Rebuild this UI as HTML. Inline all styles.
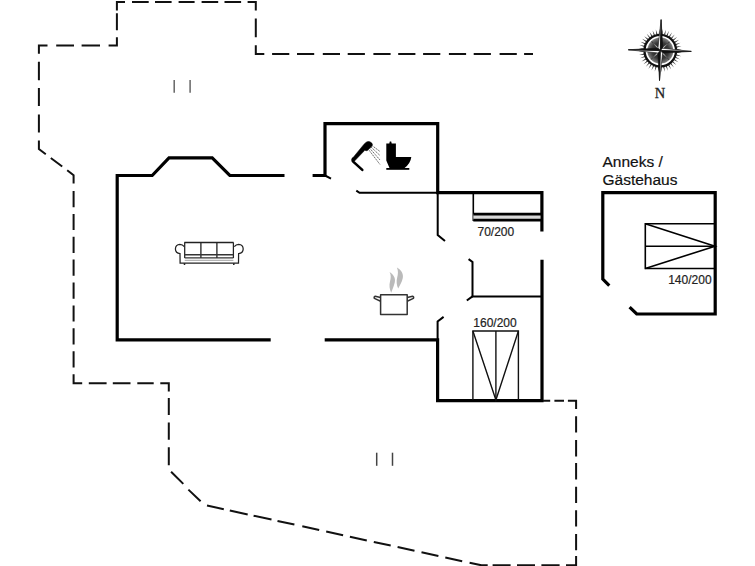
<!DOCTYPE html>
<html><head><meta charset="utf-8">
<style>
html,body{margin:0;padding:0;background:#fff;width:755px;height:566px;overflow:hidden}
svg{position:absolute;left:0;top:0}
text{font-family:"Liberation Sans",sans-serif}
</style></head>
<body>
<svg width="755" height="566" viewBox="0 0 755 566">
<!-- dashed terrace outline -->
<g fill="none" stroke="#111" stroke-width="2.0" stroke-linejoin="miter"><path d="M524.1 54.0 L533.0 54.0 M499.6 54.0 L516.8 54.0 M473.7 54.0 L490.9 54.0 M448.9 54.0 L466.1 54.0 M423.1 54.0 L440.3 54.0 M398.2 54.0 L415.4 54.0 M373.4 54.0 L390.6 54.0 M347.7 54.0 L364.9 54.0 M322.8 54.0 L340.0 54.0 M297.0 54.0 L314.2 54.0 M272.1 54.0 L289.3 54.0 M255.8 45.2 L255.8 54.0 L264.3 54.0 M255.8 18.5 L255.8 37.2 M247.6 1.9 L255.8 1.9 L255.8 10.5 M224.5 1.9 L241.1 1.9 M201.6 1.9 L218.2 1.9 M178.6 1.9 L194.6 1.9 M155.0 1.9 L171.6 1.9 M132.0 1.9 L148.7 1.9 M125.0 1.9 L116.9 1.9 L116.9 10.5 M116.9 13.2 L116.9 30.2 M116.9 37.2 L116.9 45.4 L108.6 45.4 M81.6 45.4 L100.0 45.4 M56.2 45.4 L74.0 45.4 M47.5 45.4 L38.9 45.4 L38.9 53.7 M38.9 61.8 L38.9 80.2 M38.9 88.0 L38.9 106.0 M38.9 114.4 L38.9 132.6 M38.9 140.6 L38.9 149.0 L45.8 154.2 M50.8 158.0 L62.2 166.5 M67.2 170.2 L73.6 175.2 L73.6 183.4 M73.6 191.0 L73.6 207.2 M73.6 213.9 L73.6 230.1 M73.6 236.7 L73.6 252.9 M73.6 259.6 L73.6 275.8 M73.6 282.5 L73.6 298.7 M73.6 305.4 L73.6 321.6 M73.6 328.3 L73.6 344.5 M73.6 351.2 L73.6 367.4 M73.6 374.3 L73.6 383.3 L82.2 383.3 M88.8 383.3 L106.6 383.3 M112.8 383.3 L130.5 383.3 M137.3 383.3 L153.7 383.3 M160.3 383.3 L168.8 383.3 L168.8 391.4 M168.8 397.9 L168.8 415.1 M168.8 422.6 L168.8 439.8 M168.8 447.3 L168.8 465.3 M171.1 471.7 L183.3 483.9 M188.4 489.6 L200.6 501.2 M207.0 505.5 L223.8 509.2 M229.8 510.5 L247.7 514.4 M253.6 515.7 L271.5 519.6 M277.5 520.9 L294.4 524.6 M302.3 526.3 L319.2 530.0 M326.2 531.5 L343.1 535.2 M349.9 536.7 L366.8 540.4 M373.8 541.9 L390.7 545.6 M397.6 547.1 L414.5 550.8 M421.5 552.3 L438.4 556.0 M445.3 557.5 L462.2 561.2 M469.6 562.8 L481.5 565.3 L487.7 565.3 M492.6 565.3 L510.6 565.3 M517.0 565.3 L535.0 565.3 M541.4 565.3 L559.6 565.3 M566.0 565.3 L576.1 565.3 L576.1 555.9 M576.1 533.9 L576.1 550.2 M576.1 510.3 L576.1 526.6 M576.1 486.7 L576.1 503.0 M576.1 463.1 L576.1 479.4 M576.1 440.1 L576.1 456.5 M576.1 416.2 L576.1 432.5 M576.1 408.9 L576.1 400.7 L567.9 400.7 M554.4 400.7 L564.0 400.7 M543.1 400.7 L550.2 400.7"/></g>
<!-- walls -->
<g fill="none" stroke="#000" stroke-width="3.2" stroke-linejoin="miter" stroke-linecap="butt">
<path d="M270.7 339.9 L117.2 339.9 L117.2 175.5 L152.2 175.5 L169 157.9 L212.2 157.9 L229.8 175.5 L284.5 175.5"/>
<path d="M312.6 175.5 L325 175.5 L325 123.6 L437.7 123.6 L437.7 192.6 L541.9 192.6 L541.9 231.5"/>
<path d="M324.7 339.9 L437.6 339.9 L437.6 400.6 L542 400.6 L542 259.7"/>
<path d="M609.3 285.6 L602.8 279.1 L602.8 192.6 L715.2 192.6 L715.2 314 L636.7 314 L629.6 307.1"/>
</g>
<!-- thin walls / door jambs -->
<g fill="none" stroke="#000" stroke-width="2">
<path d="M325 175.5 L331 178.6"/>
<path d="M356.3 190.6 L359.5 192.8 L437.7 192.8"/>
<path d="M437.7 192.4 L437.7 235 L445 241"/>
<path d="M468.6 259.1 L472.5 262 L472.5 296.4 L541.9 296.4"/>
<path d="M472.5 296.4 L466.8 300.5"/>
<path d="M443.6 316.9 L437.6 321.4 L437.6 340"/>
</g>

<!-- bed 70/200 -->
<g fill="none" stroke="#000">
<path d="M473.3 192.6 L473.3 221" stroke-width="1.6"/>
<rect x="473.3" y="214" width="67" height="6.4" fill="#d8d8d8" stroke="none"/>
<path d="M473.3 214.2 L541.9 214.2" stroke-width="2.8"/>
<path d="M473.3 220.2 L541.9 220.2" stroke-width="2.8"/>
</g>
<!-- bed 160/200 -->
<g fill="none" stroke="#111" stroke-width="1.4">
<path d="M472.9 400 L472.9 331 L518.4 331 L518.4 400"/>
<path d="M495.9 331 L495.9 400"/>
<path d="M472.9 331 L495.9 400 L518.4 331"/>
</g>
<!-- bed 140/200 -->
<g fill="none" stroke="#000" stroke-width="1.6">
<path d="M715 223.8 L645.3 223.8 L645.3 268.5 L715 268.5"/>
<path d="M645.3 246.2 L715 246.2"/>
<path d="M645.3 223.8 L715 246.2 L645.3 268.5"/>
</g>
<!-- labels -->
<g fill="#222" font-size="12" stroke="#222" stroke-width="0.2">
<text x="477.5" y="235.5">70/200</text>
<text x="473.3" y="327">160/200</text>
<text x="668.2" y="283.6">140/200</text>
</g>
<g fill="#111" font-size="15.5" stroke="#111" stroke-width="0.2">
<text x="602.5" y="167.1">Anneks /</text>
<text x="602.5" y="185.2">Gästehaus</text>
</g>
<!-- grey marks -->
<g stroke="#666" stroke-width="1.5">
<path d="M174.2 80 L174.2 92.8"/><path d="M190.1 80 L190.1 92.8"/>
</g>
<g stroke="#444" stroke-width="1.5">
<path d="M376.7 452.7 L376.7 465.8"/><path d="M392.5 452.7 L392.5 465.8"/>
</g>

<!-- shower -->
<path d="M362.3 169.9 L353.5 161.9 Q352 160.3 353.2 158.7" fill="none" stroke="#000" stroke-width="2.6" stroke-linecap="round"/>
<path d="M351.7 159.2 L364 144.2 L366.2 142.2 Q368 140.9 370 141.8 L372 143.3 Q373.1 144.7 371.8 146.2 L367.8 150.2 Q366.3 151.2 364.8 150.3 L354.3 161.3 Z" fill="#000" stroke="#000" stroke-width="0.5" stroke-linejoin="round"/>
<g fill="none" stroke="#444" stroke-width="0.8" stroke-dasharray="1.6 0.7">
<path d="M372 145.5 L380 151.5"/>
<path d="M371 147 L380 155.5"/>
<path d="M369.8 148.3 L380 160"/>
<path d="M368.5 149.5 L380 164.5"/>
</g>
<!-- toilet -->
<path d="M386.3 143.6 L389.3 143.6 L389.8 141.5 L391.2 141.5 L391.7 143.6 L395.9 143.6 L395.9 157 L411.3 157 Q410.6 163.5 404.3 168.2 L389.6 168.2 L386.3 160.5 Z" fill="#000"/>
<rect x="386.3" y="168" width="23" height="1.8" fill="#000"/>
<!-- sofa -->
<g fill="none" stroke="#222" stroke-width="1.25">
<path d="M184.3 242.5 L233.6 242.5" stroke-width="1.5" stroke="#222"/>
<path d="M184.7 242.5 L184.7 257.9 M233.4 242.5 L233.4 257.9"/>
<path d="M200.9 242.5 L200.9 257.9 M216.9 242.5 L216.9 257.9" stroke-width="1.3" stroke="#222"/>
<path d="M184.7 254.7 L233.4 254.7 M184.7 257.9 L233.4 257.9" stroke="#333" stroke-width="1.4"/>
<path d="M184.3 246.6 Q182.6 244.5 179.9 244.4 Q175.6 244.6 175.4 249 Q175.5 253.1 180 253.6 L180.1 263 L238.5 263 L238.6 253.6 Q243.1 253.1 243.2 249 Q243 244.6 238.7 244.4 Q236 244.5 234.3 246.6"/>
<path d="M184.7 260.3 L233.4 260.3" stroke="#888" stroke-width="0.8"/>
<path d="M184.5 263.2 L184.5 265 M233.8 263.2 L233.8 265" stroke-width="1.5"/>
</g>
<!-- pot -->
<g fill="none" stroke="#333" stroke-width="1.5" stroke-linejoin="round">
<rect x="380.6" y="294.7" width="26.6" height="19.8"/>
<path d="M380.6 297.6 L375.2 296.2 Q373.6 296.6 374.4 298.4 L380.6 301.2"/>
<path d="M407.2 297.6 L412.6 296.2 Q414.2 296.6 413.4 298.4 L407.2 301.2"/>
</g>
<g fill="#bababa">
<path d="M389.6 272 C393.4 274.3 395.8 278 394.8 282.2 C393.9 286 392.4 289.2 391.2 292.8 C389.5 289.3 389 285.3 390 281.6 C390.9 278.2 391.2 275 389.6 272 Z"/>
<path d="M396.9 267.5 C401.2 269.8 403.7 273.8 402.8 278 C401.9 282 400 285.3 398.2 288.6 C396.6 285.2 396.2 281.2 397.2 277.5 C398.1 274.2 398.4 270.7 396.9 267.5 Z"/>
</g>
<!-- compass -->
<defs>
<radialGradient id="rg" cx="0.5" cy="0.5" r="0.5">
<stop offset="0" stop-color="#151515"/><stop offset="0.65" stop-color="#3a3a3a"/><stop offset="1" stop-color="#808080"/>
</radialGradient>
</defs>
<g transform="translate(660.3 50.6) rotate(1.5)">
<g id="teeth" fill="#333"><path d="M16.49 0.67 L21.53 1.69 L16.39 1.91 Z"/><path d="M16.18 3.24 L21.00 5.04 L15.89 4.45 Z"/><path d="M15.47 5.74 L19.96 8.27 L15.00 6.88 Z"/><path d="M14.38 8.08 L18.42 11.29 L13.73 9.15 Z"/><path d="M12.94 10.24 L16.42 14.03 L12.13 11.18 Z"/><path d="M11.18 12.13 L14.03 16.42 L10.24 12.94 Z"/><path d="M9.15 13.73 L11.29 18.42 L8.08 14.38 Z"/><path d="M6.88 15.00 L8.27 19.96 L5.74 15.47 Z"/><path d="M4.45 15.89 L5.04 21.00 L3.24 16.18 Z"/><path d="M1.91 16.39 L1.69 21.53 L0.67 16.49 Z"/><path d="M-0.67 16.49 L-1.69 21.53 L-1.91 16.39 Z"/><path d="M-3.24 16.18 L-5.04 21.00 L-4.45 15.89 Z"/><path d="M-5.74 15.47 L-8.27 19.96 L-6.88 15.00 Z"/><path d="M-8.08 14.38 L-11.29 18.42 L-9.15 13.73 Z"/><path d="M-10.24 12.94 L-14.03 16.42 L-11.18 12.13 Z"/><path d="M-12.13 11.18 L-16.42 14.03 L-12.94 10.24 Z"/><path d="M-13.73 9.15 L-18.42 11.29 L-14.38 8.08 Z"/><path d="M-15.00 6.88 L-19.96 8.27 L-15.47 5.74 Z"/><path d="M-15.89 4.45 L-21.00 5.04 L-16.18 3.24 Z"/><path d="M-16.39 1.91 L-21.53 1.69 L-16.49 0.67 Z"/><path d="M-16.49 -0.67 L-21.53 -1.69 L-16.39 -1.91 Z"/><path d="M-16.18 -3.24 L-21.00 -5.04 L-15.89 -4.45 Z"/><path d="M-15.47 -5.74 L-19.96 -8.27 L-15.00 -6.88 Z"/><path d="M-14.38 -8.08 L-18.42 -11.29 L-13.73 -9.15 Z"/><path d="M-12.94 -10.24 L-16.42 -14.03 L-12.13 -11.18 Z"/><path d="M-11.18 -12.13 L-14.03 -16.42 L-10.24 -12.94 Z"/><path d="M-9.15 -13.73 L-11.29 -18.42 L-8.08 -14.38 Z"/><path d="M-6.88 -15.00 L-8.27 -19.96 L-5.74 -15.47 Z"/><path d="M-4.45 -15.89 L-5.04 -21.00 L-3.24 -16.18 Z"/><path d="M-1.91 -16.39 L-1.69 -21.53 L-0.67 -16.49 Z"/><path d="M0.67 -16.49 L1.69 -21.53 L1.91 -16.39 Z"/><path d="M3.24 -16.18 L5.04 -21.00 L4.45 -15.89 Z"/><path d="M5.74 -15.47 L8.27 -19.96 L6.88 -15.00 Z"/><path d="M8.08 -14.38 L11.29 -18.42 L9.15 -13.73 Z"/><path d="M10.24 -12.94 L14.03 -16.42 L11.18 -12.13 Z"/><path d="M12.13 -11.18 L16.42 -14.03 L12.94 -10.24 Z"/><path d="M13.73 -9.15 L18.42 -11.29 L14.38 -8.08 Z"/><path d="M15.00 -6.88 L19.96 -8.27 L15.47 -5.74 Z"/><path d="M15.89 -4.45 L21.00 -5.04 L16.18 -3.24 Z"/><path d="M16.39 -1.91 L21.53 -1.69 L16.49 -0.67 Z"/></g>
<circle r="15.8" fill="none" stroke="#111" stroke-width="2.3"/>
<circle r="13" fill="url(#rg)"/>
<g stroke="#222" stroke-width="0.5" fill="#eee"><path transform="rotate(45)" d="M0 0 L1.3 -0.9 L12.6 0 L1.3 0.9 Z"/><path transform="rotate(135)" d="M0 0 L1.3 -0.9 L12.6 0 L1.3 0.9 Z"/><path transform="rotate(225)" d="M0 0 L1.3 -0.9 L12.6 0 L1.3 0.9 Z"/><path transform="rotate(315)" d="M0 0 L1.3 -0.9 L12.6 0 L1.3 0.9 Z"/></g>
<g stroke="#111" stroke-width="0.6">
<path d="M0 -31 L-2.4 -2.4 L0 0 Z" fill="#fff"/>
<path d="M0 -31 L2.4 -2.4 L0 0 Z" fill="#111"/>
<path d="M31 0 L2.4 -2.4 L0 0 Z" fill="#fff"/>
<path d="M31 0 L2.4 2.4 L0 0 Z" fill="#111"/>
<path d="M0 30 L2.4 2.4 L0 0 Z" fill="#fff"/>
<path d="M0 30 L-2.4 2.4 L0 0 Z" fill="#111"/>
<path d="M-32 0 L-2.4 2.4 L0 0 Z" fill="#fff"/>
<path d="M-32 0 L-2.4 -2.4 L0 0 Z" fill="#111"/>
</g>
</g>

<!-- N -->
<text x="654.8" y="97.8" style="font-family:'Liberation Serif',serif;font-size:14.5px" fill="#222" stroke="#222" stroke-width="0.3">N</text>
</svg>
</body></html>
